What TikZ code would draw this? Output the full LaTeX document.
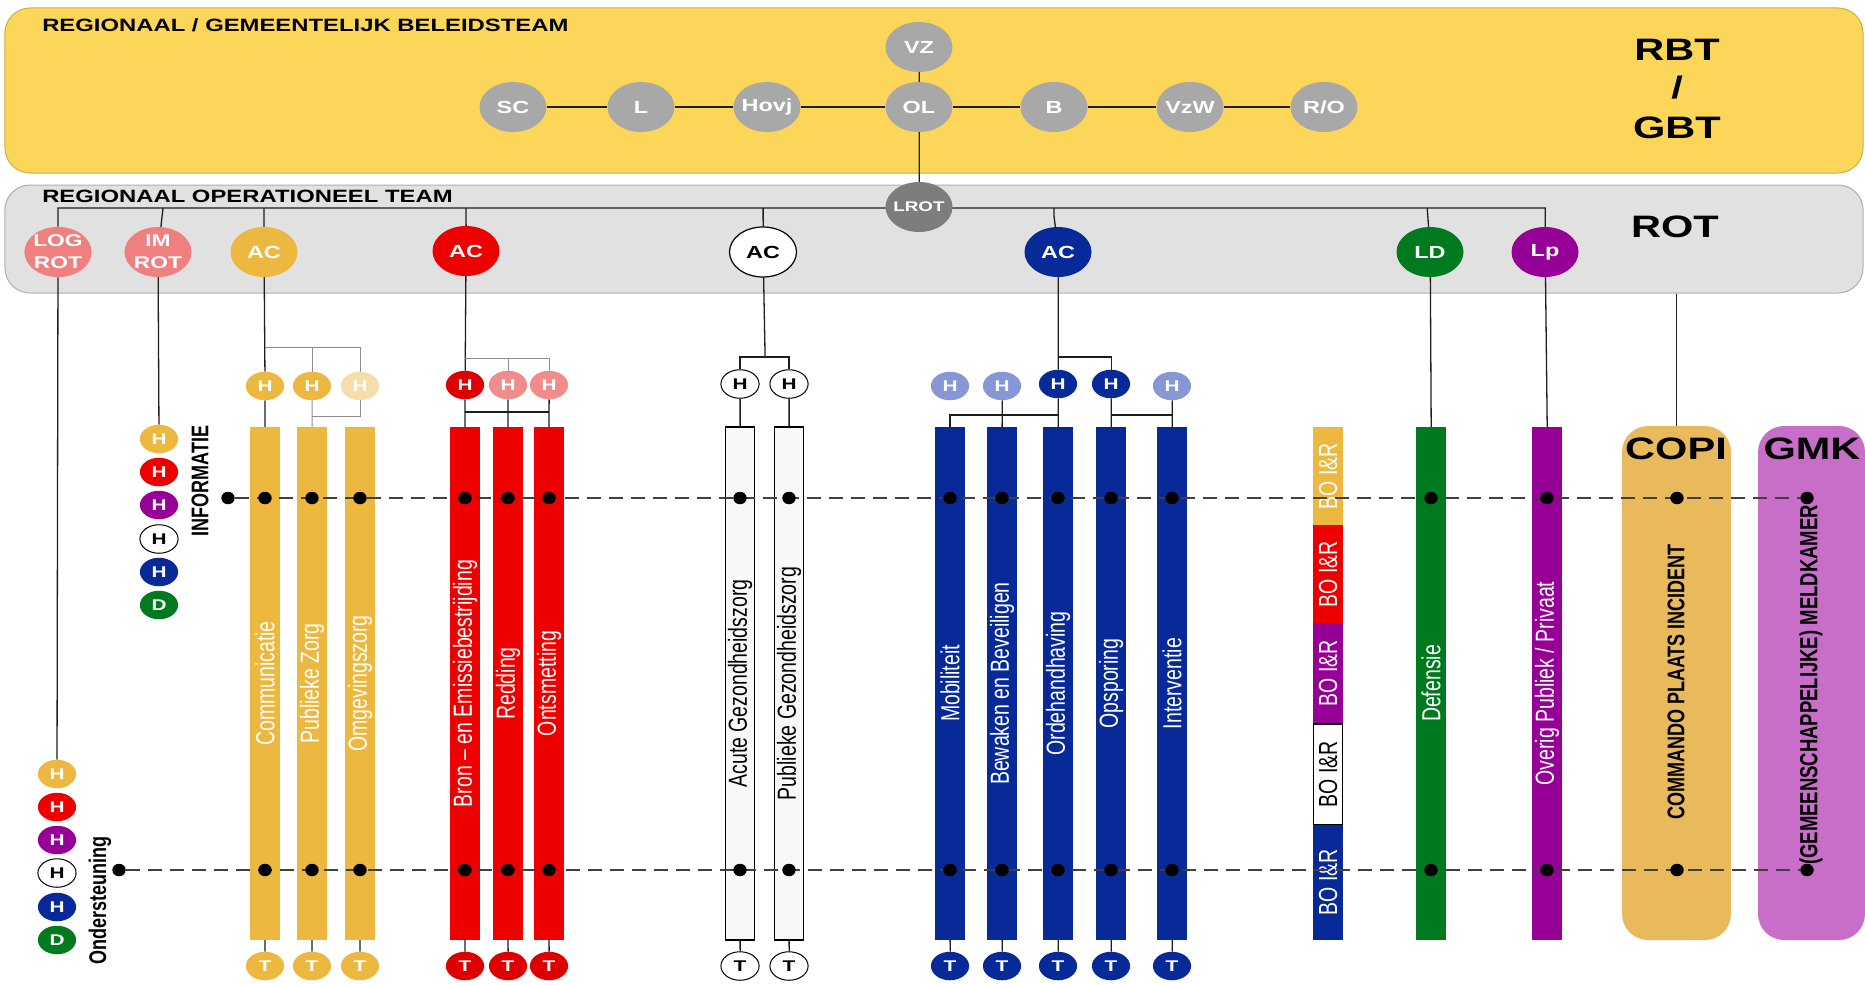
\documentclass[tikz,border=0pt]{standalone}
\usepackage{fontspec}
\setmainfont{Liberation Sans}
\usetikzlibrary{shapes.geometric}
\pgfdeclarelayer{back}
\pgfdeclarelayer{lines}
\pgfdeclarelayer{dashl}
\pgfdeclarelayer{dotl}
\pgfsetlayers{back,lines,main,dashl,dotl}
\definecolor{ybg}{RGB}{252,214,88}
\definecolor{yedge}{RGB}{205,175,70}
\definecolor{gbg}{RGB}{225,225,225}
\definecolor{gedge}{RGB}{175,175,175}
\definecolor{gcirc}{RGB}{168,168,168}
\definecolor{lrotc}{RGB}{125,125,125}
\definecolor{salmonc}{RGB}{240,128,128}
\definecolor{goldc}{RGB}{236,184,64}
\definecolor{paleg}{RGB}{245,222,170}
\definecolor{redc}{RGB}{238,0,0}
\definecolor{dredc}{RGB}{222,0,0}
\definecolor{pinkc}{RGB}{240,140,140}
\definecolor{bluec}{RGB}{8,42,152}
\definecolor{lbluec}{RGB}{135,150,212}
\definecolor{greenc}{RGB}{0,122,30}
\definecolor{purpc}{RGB}{150,0,150}
\definecolor{copic}{RGB}{233,186,92}
\definecolor{gmkc}{RGB}{200,110,200}
\definecolor{wbar}{RGB}{248,248,248}
\definecolor{linec}{RGB}{30,30,30}
\definecolor{glinec}{RGB}{140,140,140}
\newcommand{\myfs}[1]{\fontsize{#1}{#1}\selectfont}
\begin{document}
\begin{tikzpicture}[xscale=1.34, x=0.7462687pt, y=-1pt,
  every node/.append style={transform shape},
  big/.style={circle, inner sep=0pt, minimum size=50pt, text=white, font=\bfseries\myfs{17.5}},
  gc/.style={big, fill=gcirc},
  sm/.style={circle, inner sep=0pt, minimum size=28.5pt, text=white, font=\bfseries\myfs{15.5}},
  wsm/.style={sm, fill=white, draw=black, line width=1pt, text=black},
  bar/.style={rectangle, inner sep=0pt, rotate=90, minimum width=513pt, minimum height=22.4pt, font=\myfs{19.5}, text=white},
  wbarst/.style={bar, fill=wbar, draw=black, line width=1.2pt, text=black, minimum height=21.6pt},
  seg/.style={rectangle, inner sep=0pt, rotate=90, minimum height=22.4pt, font=\myfs{19.5}, text=white},
  dotst/.style={ellipse, fill=black, inner sep=0pt, minimum width=10pt, minimum height=12.5pt},
  conn/.style={draw=linec, line width=1.3pt},
  gconn/.style={draw=glinec, line width=1pt},
  dashln/.style={draw=linec!85, line width=1.4pt, dash pattern=on 14pt off 8pt},
  title/.style={anchor=west, inner sep=0pt, font=\bfseries\myfs{17.8}},
  bigtxt/.style={inner sep=0pt, font=\bfseries\myfs{31}},
  vtxt/.style={inner sep=0pt, rotate=90, font=\bfseries\myfs{18}}
]
\useasboundingbox (0,0) rectangle (1865,984);
\begin{pgfonlayer}{back}
\fill[white] (0,0) rectangle (1865,984);
\node[rectangle, fill=ybg, draw=yedge, line width=1pt, rounded corners=25pt, minimum width=1386.6pt, minimum height=165pt] (rbtbox) at (934,90.5) {};
\node[rectangle, fill=gbg, draw=gedge, line width=1pt, rounded corners=25pt, minimum width=1386.6pt, minimum height=108pt] (rotbox) at (934,239) {};
\node[rectangle, fill=copic, rounded corners=26pt, minimum width=81.3pt, minimum height=514pt] (COPI) at (1676.5,683) {};
\node[rectangle, fill=gmkc, rounded corners=26pt, minimum width=79.8pt, minimum height=514pt] (GMK) at (1811.5,683) {};
\end{pgfonlayer}

% titles
\node[title] (t1) at (42,25) {REGIONAAL / GEMEENTELIJK BELEIDSTEAM};
\node[title] (t2) at (42,196) {REGIONAAL OPERATIONEEL TEAM};
\node[bigtxt] (rbt) at (1677,50) {RBT};
\node[bigtxt] (sl) at (1677,88) {/};
\node[bigtxt] (gbt) at (1677,128) {GBT};
\node[bigtxt] (rot) at (1675,227) {ROT};
\node[bigtxt] (copit) at (1676,449) {COPI};
\node[bigtxt] (gmkt) at (1812,449) {GMK};
\node[vtxt] (cpi) at (1676,682) {COMMANDO PLAATS INCIDENT};
\node[vtxt, font=\bfseries\myfs{18.5}] (gmk2) at (1811,685) {(GEMEENSCHAPPELIJKE) MELDKAMER};
\node[vtxt] (info) at (200,481) {INFORMATIE};
\node[vtxt] (ond) at (100,900) {Ondersteuning};

% RBT circles
\node[gc] (VZ) at (919,47) {VZ};
\node[gc] (SC) at (513,107) {SC};
\node[gc] (L) at (641,107) {L};
\node[gc] (Hovj) at (767,107) {Hovj};
\node[gc] (OL) at (919,107) {OL};
\node[gc] (B) at (1054,107) {B};
\node[gc] (VzW) at (1190,107) {VzW};
\node[gc] (RO) at (1324,107) {R/O};
\node[big, fill=lrotc, font=\bfseries\myfs{14}] (LROT) at (919,207) {LROT};

% ROT circles
\node[big, fill=salmonc, align=center, font=\bfseries\fontsize{17}{22}\selectfont] (LOG) at (58,252) {LOG\\ROT};
\node[big, fill=salmonc, align=center, font=\bfseries\fontsize{17}{22}\selectfont] (IM) at (158,252) {IM\\ROT};
\node[big, fill=goldc] (ACy) at (264,252) {AC};
\node[big, fill=redc] (ACr) at (466,251) {AC};
\node[big, fill=white, draw=black, line width=1.2pt, text=black] (ACw) at (763,252) {AC};
\node[big, fill=bluec] (ACb) at (1058,252) {AC};
\node[big, fill=greenc] (LD) at (1430,252) {LD};
\node[big, fill=purpc] (Lp) at (1545,252) {Lp};

% H circles
\node[sm, fill=goldc] (Hy1) at (265,386) {H};
\node[sm, fill=goldc] (Hy2) at (312,386) {H};
\node[sm, fill=paleg] (Hy3) at (360,386) {H};
\node[sm, fill=dredc] (Hr1) at (465,385) {H};
\node[sm, fill=pinkc] (Hr2) at (508,385) {H};
\node[sm, fill=pinkc] (Hr3) at (549,385) {H};
\node[wsm] (Hw1) at (740,384) {H};
\node[wsm] (Hw2) at (789,384) {H};
\node[sm, fill=lbluec] (Hb1) at (950,386) {H};
\node[sm, fill=lbluec] (Hb2) at (1002,386) {H};
\node[sm, fill=bluec] (Hb3) at (1058,384) {H};
\node[sm, fill=bluec] (Hb4) at (1111,384) {H};
\node[sm, fill=lbluec] (Hb5) at (1172,386) {H};

% bars
\node[bar, fill=goldc] (yb1) at (265,683.5) {Communicatie};
\node[bar, fill=goldc] (yb2) at (312,683.5) {Publieke Zorg};
\node[bar, fill=goldc] (yb3) at (360,683.5) {Omgevingszorg};
\node[bar, fill=redc] (rb1) at (465,683.5) {Bron – en Emissiebestrijding};
\node[bar, fill=redc] (rb2) at (508,683.5) {Redding};
\node[bar, fill=redc] (rb3) at (549,683.5) {Ontsmetting};
\node[wbarst] (wb1) at (740,683.5) {Acute Gezondheidszorg};
\node[wbarst] (wb2) at (789,683.5) {Publieke Gezondheidszorg};
\node[bar, fill=bluec] (bb1) at (950,683.5) {Mobiliteit};
\node[bar, fill=bluec] (bb2) at (1002,683.5) {Bewaken en Beveiligen};
\node[bar, fill=bluec] (bb3) at (1058,683.5) {Ordehandhaving};
\node[bar, fill=bluec] (bb4) at (1111,683.5) {Opsporing};
\node[bar, fill=bluec] (bb5) at (1172,683.5) {Interventie};
\node[bar, fill=greenc] (def) at (1431,683.5) {Defensie};
\node[bar, fill=purpc] (ovr) at (1547,683.5) {Overig Publiek / Privaat};

% BO I&R stacked bar
\node[seg, fill=goldc, minimum width=98pt] (bo1) at (1328,476) {BO I\&R};
\node[seg, fill=redc, minimum width=98pt] (bo2) at (1328,574) {BO I\&R};
\node[seg, fill=purpc, minimum width=101pt] (bo3) at (1328,673.5) {BO I\&R};
\node[seg, fill=white, draw=black, line width=1.2pt, text=black, minimum width=101pt, minimum height=21.6pt] (bo4) at (1328,774.5) {BO I\&R};
\node[seg, fill=bluec, minimum width=115pt] (bo5) at (1328,882.5) {BO I\&R};

% T circles
\node[sm, fill=goldc] (Ty1) at (265,966) {T};
\node[sm, fill=goldc] (Ty2) at (312,966) {T};
\node[sm, fill=goldc] (Ty3) at (360,966) {T};
\node[sm, fill=dredc] (Tr1) at (465,966) {T};
\node[sm, fill=dredc] (Tr2) at (508,966) {T};
\node[sm, fill=dredc] (Tr3) at (549,966) {T};
\node[wsm] (Tw1) at (740,966) {T};
\node[wsm] (Tw2) at (789,966) {T};
\node[sm, fill=bluec] (Tb1) at (950,966) {T};
\node[sm, fill=bluec] (Tb2) at (1002,966) {T};
\node[sm, fill=bluec] (Tb3) at (1058,966) {T};
\node[sm, fill=bluec] (Tb4) at (1111,966) {T};
\node[sm, fill=bluec] (Tb5) at (1172,966) {T};

% legends
\node[sm, fill=goldc] (U1) at (159,439) {H};
\node[sm, fill=redc] (U2) at (159,472) {H};
\node[sm, fill=purpc] (U3) at (159,505) {H};
\node[wsm] (U4) at (159,539) {H};
\node[sm, fill=bluec] (U5) at (159,572) {H};
\node[sm, fill=greenc] (U6) at (159,605) {D};
\node[sm, fill=goldc] (O1) at (57,774) {H};
\node[sm, fill=redc] (O2) at (57,807) {H};
\node[sm, fill=purpc] (O3) at (57,840) {H};
\node[wsm] (O4) at (57,873) {H};
\node[sm, fill=bluec] (O5) at (57,907) {H};
\node[sm, fill=greenc] (O6) at (57,940) {D};

% dots
\begin{pgfonlayer}{dotl}
\foreach \xx [count=\i] in {228,265,312,360,465,508,549,740,789,950,1002,1058,1111,1172,1431,1547,1677,1807}
  {\node[dotst] (i\i) at (\xx,498) {};}
\foreach \xx [count=\i] in {119,265,312,360,465,508,549,740,789,950,1002,1058,1111,1172,1431,1547,1677,1807}
  {\node[dotst] (o\i) at (\xx,870) {};}
\end{pgfonlayer}
\begin{pgfonlayer}{dashl}
\draw[dashln] (i1) -- (i18);
\draw[dashln] (o1) -- (o18);
\end{pgfonlayer}

% connectors
\begin{pgfonlayer}{lines}
\draw[conn] (SC) -- (L) -- (Hovj) -- (OL) -- (B) -- (VzW) -- (RO);
\draw[conn] (VZ) -- (OL);
\draw[conn] (OL) -- (LROT);
\coordinate (busL) at (58,208);
\coordinate (busR) at (1545,208);
\draw[conn] (LOG) -- (busL) -- (busR) -- (Lp);
\coordinate (imb) at (163,208);
\coordinate (ldb) at (1427,208);
\draw[conn] (IM) -- (imb);
\draw[conn] (ACy) -- (ACy |- busL);
\draw[conn] (ACr) -- (ACr |- busL);
\draw[conn] (ACw) -- (ACw |- busL);
\draw[conn] (ACb) -- (1054,216) -- (1054,208);
\draw[conn] (LD) -- (ldb);
\draw[conn] (rotbox.south -| COPI.north) -- (COPI.north);
\draw[conn] (LOG) -- (O1);
\draw[conn] (IM) -- (U1);
% yellow
\coordinate (yk) at (265,347);
\coordinate (ylow) at (312,416);
\draw[conn] (ACy) -- (Hy1);
\draw[gconn] (yk) -| (Hy3.north);
\draw[gconn] (Hy2.north) -- (Hy2.north |- yk);
\draw[conn] (Hy1) -- (yb1.east);
\draw[gconn] (Hy2) -- (yb2.east);
\draw[gconn] (Hy3.south) |- (ylow);
% red
\coordinate (rk) at (465,358);
\coordinate (rl) at (465,412);
\draw[conn] (ACr) -- (Hr1);
\draw[gconn] (rk) -| (Hr3.north);
\draw[gconn] (Hr2.north) -- (Hr2.north |- rk);
\draw[conn] (Hr1) -- (rb1.east);
\draw[conn] (Hr2) -- (rb2.east);
\draw[conn] (Hr3) -- (rb3.east);
\draw[conn] (rl) -- (Hr3 |- rl);
% white
\coordinate (wk) at (765,357);
\draw[conn] (ACw) -- (wk);
\draw[conn] (Hw1.north) -- (Hw1 |- wk) -- (Hw2 |- wk) -- (Hw2.north);
\draw[conn] (Hw1) -- (wb1.east);
\draw[conn] (Hw2) -- (wb2.east);
% blue
\coordinate (bk) at (1058,357);
\coordinate (bl) at (950,415);
\draw[conn] (ACb) -- (Hb3);
\draw[conn] (bk) -| (Hb4.north);
\draw[conn] (bb1.east) -- (bl) -- (Hb3 |- bl);
\draw[conn] (Hb2) -- (bb2.east);
\draw[conn] (Hb3) -- (bb3.east);
\draw[conn] (Hb4) -- (bb4.east);
\draw[conn] (Hb5) -- (bb5.east);
\draw[conn] (Hb4 |- bl) -- (Hb5 |- bl);
% other
\draw[conn] (LD) -- (def.east);
\draw[conn] (Lp) -- (ovr.east);
% T
\foreach \b/\t in {yb1/Ty1,yb2/Ty2,yb3/Ty3,rb1/Tr1,rb2/Tr2,rb3/Tr3,wb1/Tw1,wb2/Tw2,bb1/Tb1,bb2/Tb2,bb3/Tb3,bb4/Tb4,bb5/Tb5}
  {\draw[conn] (\b.west) -- (\t);}
\end{pgfonlayer}
\end{tikzpicture}
\end{document}
